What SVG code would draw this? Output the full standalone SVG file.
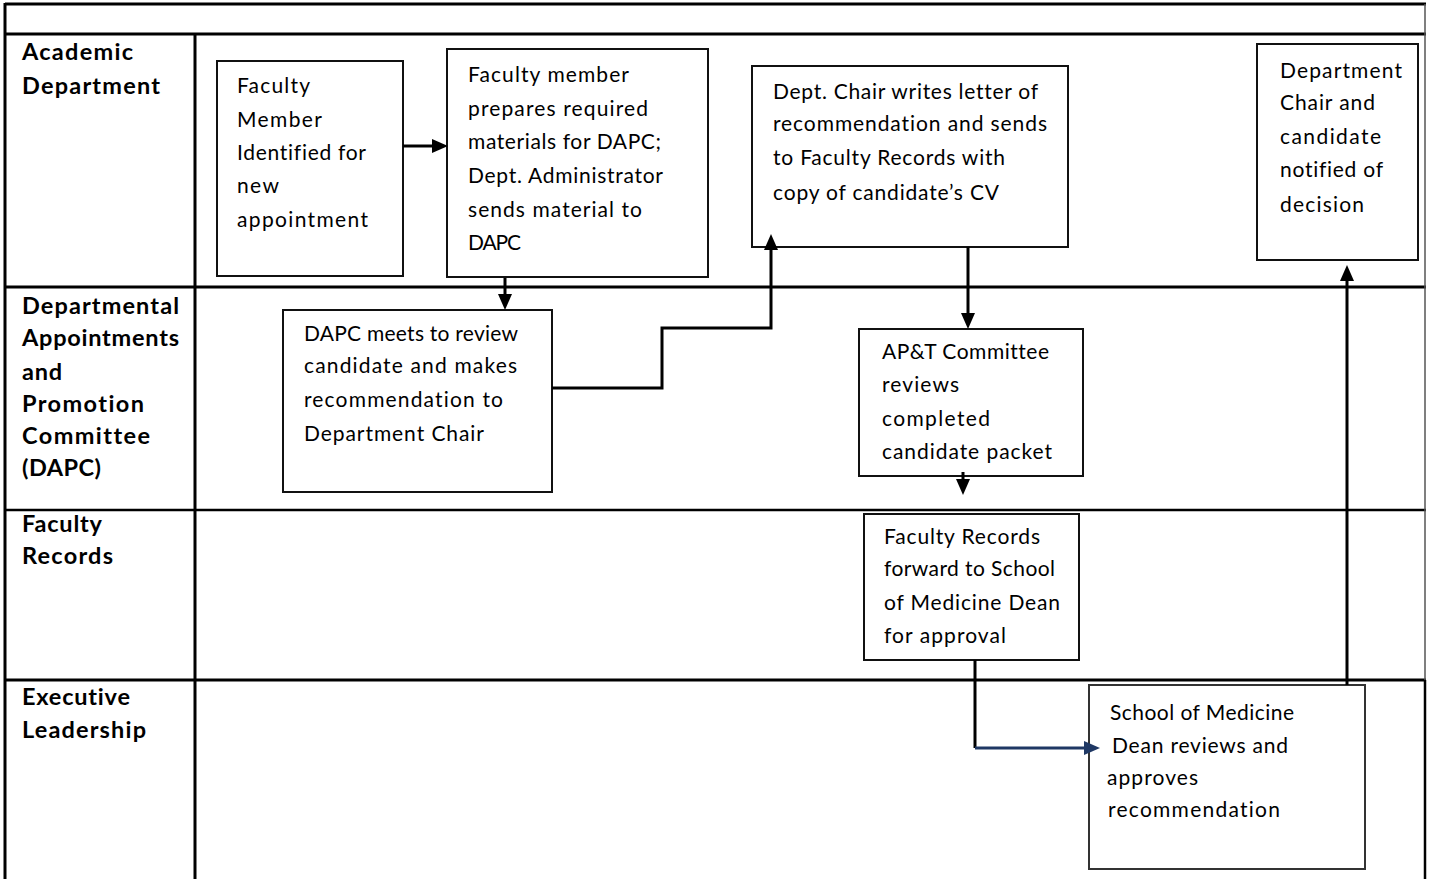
<svg xmlns="http://www.w3.org/2000/svg" width="1431" height="879" viewBox="0 0 1431 879">
<style>
.grid{stroke:#000;stroke-width:3;fill:none}
.thin{stroke:#555;stroke-width:1.5;fill:none}
.box{fill:#fff;stroke:#111;stroke-width:2}
.t{font-family:Lato,"Open Sans","Liberation Sans",sans-serif;font-size:21px;fill:#000;font-variant-ligatures:none}
.lane{font-family:Lato,"Open Sans","Liberation Sans",sans-serif;font-size:23.5px;font-weight:bold;fill:#000;font-variant-ligatures:none}
.c{stroke:#000;stroke-width:3;fill:none}
.cn{stroke:#1f3864;stroke-width:3;fill:none}
</style>
<defs>
<marker id="ah" markerUnits="userSpaceOnUse" markerWidth="17" markerHeight="15" refX="0" refY="7" orient="auto">
<path d="M0,0 L16,7 L0,14 z" fill="#000"/>
</marker>
<marker id="ahn" markerUnits="userSpaceOnUse" markerWidth="17" markerHeight="15" refX="0" refY="7" orient="auto">
<path d="M0,0 L16,7 L0,14 z" fill="#1f3864"/>
</marker>
</defs>
<rect width="1431" height="879" fill="#fff"/>
<g id="table">
<line class="grid" x1="5" y1="4" x2="1426" y2="4"/>
<line class="grid" x1="5" y1="3" x2="5" y2="879"/>
<line class="grid" x1="5" y1="34" x2="1426" y2="34"/>
<line class="grid" x1="195" y1="34" x2="195" y2="879"/>
<line class="grid" x1="5" y1="287" x2="1426" y2="287"/>
<line class="grid" x1="5" y1="510" x2="1426" y2="510" style="stroke-width:2.5"/>
<line class="grid" x1="5" y1="680" x2="1426" y2="680"/>
<line class="thin" x1="1425" y1="4" x2="1425" y2="680"/>
<line class="grid" x1="1425" y1="680" x2="1425" y2="879" style="stroke-width:2.5"/>
</g>
<g id="lanes">
<text class="lane" x="22" y="60" textLength="111" lengthAdjust="spacing">Academic</text>
<text class="lane" x="22" y="94" textLength="138" lengthAdjust="spacing">Department</text>
<text class="lane" x="22" y="314" textLength="157" lengthAdjust="spacing">Departmental</text>
<text class="lane" x="22" y="346" textLength="157" lengthAdjust="spacing">Appointments</text>
<text class="lane" x="22" y="380" textLength="40" lengthAdjust="spacing">and</text>
<text class="lane" x="22" y="412" textLength="122" lengthAdjust="spacing">Promotion</text>
<text class="lane" x="22" y="444" textLength="128" lengthAdjust="spacing">Committee</text>
<text class="lane" x="22" y="476" textLength="79" lengthAdjust="spacing">(DAPC)</text>
<text class="lane" x="22" y="532" textLength="80" lengthAdjust="spacing">Faculty</text>
<text class="lane" x="22" y="564" textLength="91" lengthAdjust="spacing">Records</text>
<text class="lane" x="22" y="705" textLength="108" lengthAdjust="spacing">Executive</text>
<text class="lane" x="22" y="738" textLength="124" lengthAdjust="spacing">Leadership</text>
</g>
<g id="n1">
<rect class="box" x="217" y="61" width="186" height="215"/>
<text class="t" x="237" y="93" textLength="73" lengthAdjust="spacing">Faculty</text>
<text class="t" x="237" y="127" textLength="85" lengthAdjust="spacing">Member</text>
<text class="t" x="237" y="160" textLength="129" lengthAdjust="spacing">Identified for</text>
<text class="t" x="237" y="193" textLength="42" lengthAdjust="spacing">new</text>
<text class="t" x="237" y="227" textLength="131" lengthAdjust="spacing">appointment</text>
</g>
<g id="n2">
<rect class="box" x="447" y="49" width="261" height="228"/>
<text class="t" x="468" y="82" textLength="161" lengthAdjust="spacing">Faculty member</text>
<text class="t" x="468" y="116" textLength="180" lengthAdjust="spacing">prepares required</text>
<text class="t" x="468" y="149" textLength="193" lengthAdjust="spacing">materials for DAPC;</text>
<text class="t" x="468" y="183" textLength="195" lengthAdjust="spacing">Dept. Administrator</text>
<text class="t" x="468" y="217" textLength="174" lengthAdjust="spacing">sends material to</text>
<text class="t" x="468" y="250" textLength="53" lengthAdjust="spacing">DAPC</text>
</g>
<g id="n3">
<rect class="box" x="752" y="66" width="316" height="181"/>
<text class="t" x="773" y="99" textLength="265" lengthAdjust="spacing">Dept. Chair writes letter of</text>
<text class="t" x="773" y="131" textLength="274" lengthAdjust="spacing">recommendation and sends</text>
<text class="t" x="773" y="165" textLength="232" lengthAdjust="spacing">to Faculty Records with</text>
<text class="t" x="773" y="200" textLength="226" lengthAdjust="spacing">copy of candidate’s CV</text>
</g>
<g id="n4">
<rect class="box" x="1257" y="44" width="161" height="216"/>
<text class="t" x="1280" y="78" textLength="122" lengthAdjust="spacing">Department</text>
<text class="t" x="1280" y="110" textLength="95" lengthAdjust="spacing">Chair and</text>
<text class="t" x="1280" y="144" textLength="101" lengthAdjust="spacing">candidate</text>
<text class="t" x="1280" y="177" textLength="103" lengthAdjust="spacing">notified of</text>
<text class="t" x="1280" y="212" textLength="84" lengthAdjust="spacing">decision</text>
</g>
<g id="n5">
<rect class="box" x="283" y="310" width="269" height="182"/>
<text class="t" x="304" y="341" textLength="214" lengthAdjust="spacing">DAPC meets to review</text>
<text class="t" x="304" y="373" textLength="213" lengthAdjust="spacing">candidate and makes</text>
<text class="t" x="304" y="407" textLength="199" lengthAdjust="spacing">recommendation to</text>
<text class="t" x="304" y="441" textLength="180" lengthAdjust="spacing">Department Chair</text>
</g>
<g id="n6">
<rect class="box" x="859" y="329" width="224" height="147"/>
<text class="t" x="882" y="359" textLength="167" lengthAdjust="spacing">AP&amp;T Committee</text>
<text class="t" x="882" y="392" textLength="77" lengthAdjust="spacing">reviews</text>
<text class="t" x="882" y="426" textLength="108" lengthAdjust="spacing">completed</text>
<text class="t" x="882" y="459" textLength="170" lengthAdjust="spacing">candidate packet</text>
</g>
<g id="n7">
<rect class="box" x="864" y="514" width="215" height="146"/>
<text class="t" x="884" y="544" textLength="156" lengthAdjust="spacing">Faculty Records</text>
<text class="t" x="884" y="576" textLength="171" lengthAdjust="spacing">forward to School</text>
<text class="t" x="884" y="610" textLength="176" lengthAdjust="spacing">of Medicine Dean</text>
<text class="t" x="884" y="643" textLength="122" lengthAdjust="spacing">for approval</text>
</g>
<g id="n8">
<rect class="box" x="1089" y="685" width="276" height="184" style="stroke:#333"/>
<text class="t" x="1110" y="720" textLength="184" lengthAdjust="spacing">School of Medicine</text>
<text class="t" x="1112" y="753" textLength="176" lengthAdjust="spacing">Dean reviews and</text>
<text class="t" x="1107" y="785" textLength="91" lengthAdjust="spacing">approves</text>
<text class="t" x="1108" y="817" textLength="172" lengthAdjust="spacing">recommendation</text>
</g>
<g id="connectors">
<path class="c" d="M403,146 H432" marker-end="url(#ah)"/>
<path class="c" d="M505,278 V294" marker-end="url(#ah)"/>
<path class="c" d="M552,388 H662 V328 H771 V250" marker-end="url(#ah)"/>
<path class="c" d="M968,247 V313" marker-end="url(#ah)"/>
<path class="c" d="M963,472 V479" marker-end="url(#ah)"/>
<path class="c" d="M975,660 V748"/>
<path class="cn" d="M975,748 H1084" marker-end="url(#ahn)"/>
<path class="c" d="M1347,685 V281" marker-end="url(#ah)"/>
</g>
</svg>
